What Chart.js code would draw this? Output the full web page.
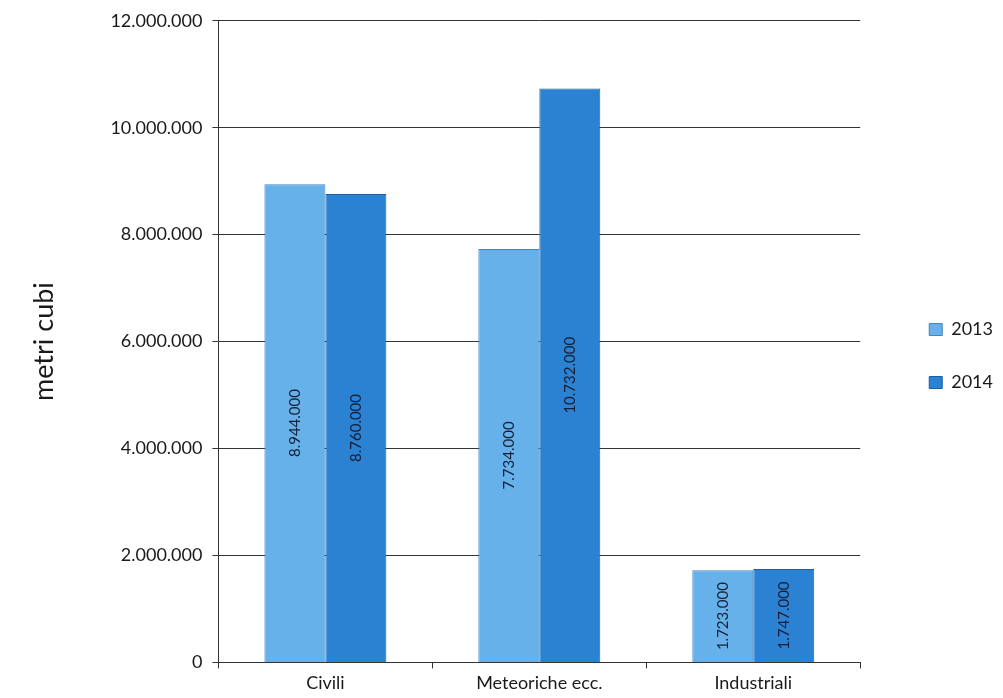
<!DOCTYPE html>
<html>
<head>
<meta charset="utf-8">
<script src="https://cdn.jsdelivr.net/npm/chart.js@4.4.0/dist/chart.umd.min.js"></script>
<style>
  html, body { margin: 0; padding: 0; background: #fff; }
  #wrap { width: 1003px; height: 698px; position: relative; }
</style>
</head>
<body>
<div id="wrap"><canvas id="MainChart"></canvas></div>
<script>
// chart values
const categories = ["Civili", "Meteoriche ecc.", "Industriali"];
const seriesNames = ["2013", "2014"];
const values2013 = [8944000, 7734000, 1723000];
const values2014 = [8760000, 10732000, 1747000];
const yTicks = [0, 2000000, 4000000, 6000000, 8000000, 10000000, 12000000];

const fontFamily = "Lato, 'DejaVu Sans', sans-serif";
const legendGap = 34;

function formatIt(value) {
    // 12000000 -> 12.000.000
    return String(Math.round(value)).replace(/\B(?=(\d{3})+(?!\d))/g, ".");
}

// value labels written vertically inside the bars
const barLabels = {
    id: "barLabels",
    afterDatasetsDraw(chart) {
        let ctx = chart.ctx;
        ctx.save();
        ctx.font = "15px " + fontFamily;
        ctx.fillStyle = "#141d33";
        ctx.textAlign = "center";
        ctx.textBaseline = "middle";
        chart.data.datasets.forEach((ds, di) => {
            let meta = chart.getDatasetMeta(di);
            meta.data.forEach((bar, i) => {
                let yMid = (bar.y + bar.base) / 2;
                ctx.save();
                ctx.translate(bar.x, yMid);
                ctx.rotate(-Math.PI / 2);
                ctx.fillText(formatIt(ds.data[i]), 0, 0);
                ctx.restore();
            });
        });
        ctx.restore();
    }
};

// push the legend a bit away from the plot
const legendShift = {
    id: "legendShift",
    afterLayout(chart) {
        if (chart.legend) {
            chart.legend.left += legendGap;
            chart.legend.right += legendGap;
        }
    }
};

const config = {
    type: "bar",
    data: {
        labels: categories,
        datasets: [
            {
                label: seriesNames[0],
                data: values2013,
                backgroundColor: "#66b1ea",
                borderColor: "#3f86c2",
                borderWidth: 1,
                barPercentage: 1,
                categoryPercentage: 0.57
            },
            {
                label: seriesNames[1],
                data: values2014,
                backgroundColor: "#2b82d3",
                borderColor: "#1c5f9e",
                borderWidth: 1,
                barPercentage: 1,
                categoryPercentage: 0.57
            }
        ]
    },
    options: {
        responsive: true,
        maintainAspectRatio: false,
        animation: false,
        layout: {
            padding: { left: 24, right: legendGap, top: 14, bottom: 0 }
        },
        plugins: {
            legend: {
                position: "right",
                labels: {
                    boxWidth: 13,
                    boxHeight: 12,
                    padding: 35,
                    color: "#1a1a1a",
                    font: { family: fontFamily, size: 18 }
                }
            },
            tooltip: { enabled: false }
        },
        scales: {
            x: {
                grid: {
                    offset: true,
                    drawOnChartArea: false,
                    tickLength: 6,
                    color: "#333"
                },
                border: { color: "#333", width: 1 },
                ticks: {
                    color: "#1a1a1a",
                    padding: 4,
                    font: { family: fontFamily, size: 18 }
                }
            },
            y: {
                min: 0,
                max: 12000000,
                afterBuildTicks: function (axis) {
                    axis.ticks = yTicks.map(v => ({ value: v }));
                },
                grid: {
                    color: "#333",
                    tickLength: 6
                },
                border: { color: "#333", width: 1 },
                ticks: {
                    color: "#1a1a1a",
                    padding: 10,
                    font: { family: fontFamily, size: 18 },
                    callback: function (value) {
                        return formatIt(value);
                    }
                },
                title: {
                    display: true,
                    text: "metri cubi",
                    color: "#1a1a1a",
                    padding: { bottom: 40 },
                    font: { family: fontFamily, size: 27 }
                }
            }
        }
    },
    plugins: [barLabels, legendShift]
};

let myChart = new Chart(document.getElementById("MainChart"), config);
</script>
</body>
</html>
